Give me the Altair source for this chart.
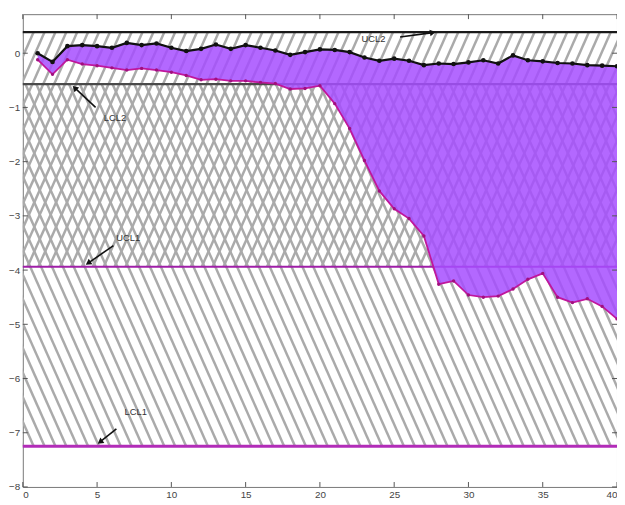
import altair as alt
import pandas as pd
import numpy as np

# ---------------- data ----------------
x_vals = list(range(1, 41))
black_vals = [0.00, -0.16, 0.13, 0.15, 0.13, 0.10, 0.19, 0.15, 0.18, 0.10,
              0.04, 0.08, 0.16, 0.08, 0.15, 0.10, 0.05, -0.03, 0.02, 0.07,
              0.06, 0.02, -0.08, -0.14, -0.10, -0.14, -0.22, -0.19, -0.20, -0.17,
              -0.13, -0.19, -0.04, -0.13, -0.15, -0.18, -0.19, -0.22, -0.23, -0.24]
magenta_vals = [-0.12, -0.39, -0.12, -0.20, -0.23, -0.27, -0.31, -0.28, -0.31, -0.35,
                -0.41, -0.49, -0.48, -0.51, -0.51, -0.54, -0.56, -0.66, -0.65, -0.60,
                -0.93, -1.39, -1.98, -2.54, -2.87, -3.05, -3.37, -4.26, -4.20, -4.46,
                -4.50, -4.48, -4.35, -4.17, -4.06, -4.50, -4.60, -4.53, -4.67, -4.90]

limit_names = ["UCL2", "LCL2", "UCL1", "LCL1"]
limit_values = [0.39, -0.57, -3.94, -7.25]
limit_colors = ["#1a1a1a", "#4a4a4a", "#a020a8", "#b22cb8"]
limit_widths = [2.2, 2.2, 2.0, 3.0]

x_ticks = [0, 5, 10, 15, 20, 25, 30, 35, 40]
y_ticks = [-8, -7, -6, -5, -4, -3, -2, -1, 0]
x_domain = [0, 40]
y_domain = [-8, 0.72]

# annotation labels: text, text position, arrow start, arrow end
ann_text = ["UCL2", "LCL2", "UCL1", "LCL1"]
ann_tx = [23.6, 6.2, 7.1, 7.6]
ann_ty = [0.27, -1.19, -3.40, -6.62]
ann_x1 = [25.4, 4.9, 6.1, 6.3]
ann_y1 = [0.30, -1.00, -3.55, -6.93]
ann_x2 = [27.6, 3.5, 4.4, 5.2]
ann_y2 = [0.38, -0.64, -3.87, -7.17]
ann_angle = [350, 225, 146, 143]

W, H = 602, 479

xs = alt.Scale(domain=x_domain, nice=False, zero=False)
ys = alt.Scale(domain=y_domain, nice=False, zero=False)

# ---------------- hatch pattern (decoration) ----------------
slope = 1.62      # x-units per y-unit of a hatch stroke
step = 0.733      # horizontal spacing of strokes
def hatch(lo, hi, direction):
    span = slope * (hi - lo)
    rows = []
    if direction > 0:
        starts = np.arange(-span - step, x_domain[1] + step, step)
        for c in starts:
            rows.append({"x": c, "y": lo, "x2": c + span, "y2": hi})
    else:
        starts = np.arange(0, x_domain[1] + span + step, step)
        for c in starts:
            rows.append({"x": c, "y": lo, "x2": c - span, "y2": hi})
    return pd.DataFrame(rows)

hatch_lower = hatch(limit_values[3], limit_values[1], -1)   # "\" LCL1..LCL2
hatch_upper = hatch(limit_values[2], limit_values[0], +1)   # "/" UCL1..UCL2
hatch_df = pd.concat([hatch_lower, hatch_upper], ignore_index=True)

axis_kw = dict(grid=False, ticks=False, domain=False, title=None, labelFontSize=10,
               labelColor="#444", labelFont="Liberation Sans", labelPadding=3)

hatch_layer = alt.Chart(hatch_df).mark_rule(
    clip=True, strokeWidth=2.5, color="#aaaaaa"
).encode(
    x=alt.X("x:Q", scale=xs, axis=alt.Axis(values=x_ticks, **axis_kw)),
    y=alt.Y("y:Q", scale=ys, axis=alt.Axis(values=y_ticks, **axis_kw)),
    x2="x2:Q",
    y2="y2:Q",
)

# ---------------- limit lines ----------------
lim_df = pd.DataFrame({"name": limit_names, "v": limit_values,
                       "c": limit_colors, "w": limit_widths})
limit_layer = alt.Chart(lim_df).mark_rule().encode(
    y=alt.Y("v:Q", scale=ys),
    x=alt.value(0), x2=alt.value(W),
    color=alt.Color("c:N", scale=None),
    strokeWidth=alt.StrokeWidth("w:Q", scale=None),
)

# ---------------- series ----------------
series_df = pd.DataFrame({"x": x_vals, "black": black_vals, "magenta": magenta_vals})

area_layer = alt.Chart(series_df).mark_area(color="#a64dff", opacity=0.85).encode(
    x=alt.X("x:Q", scale=xs),
    y=alt.Y("black:Q", scale=ys),
    y2="magenta:Q",
)

black_line = alt.Chart(series_df).mark_line(color="#111111", strokeWidth=2.2).encode(
    x=alt.X("x:Q", scale=xs), y=alt.Y("black:Q", scale=ys))
black_pts = alt.Chart(series_df).mark_point(color="#111111", filled=True, size=22, opacity=1).encode(
    x=alt.X("x:Q", scale=xs), y=alt.Y("black:Q", scale=ys))
mag_line = alt.Chart(series_df).mark_line(color="#c0169c", strokeWidth=1.8).encode(
    x=alt.X("x:Q", scale=xs), y=alt.Y("magenta:Q", scale=ys))
mag_pts = alt.Chart(series_df).mark_point(color="#a0107e", filled=True, size=12, opacity=1).encode(
    x=alt.X("x:Q", scale=xs), y=alt.Y("magenta:Q", scale=ys))

# ---------------- annotations ----------------
ann_df = pd.DataFrame({"t": ann_text, "tx": ann_tx, "ty": ann_ty,
                       "x1": ann_x1, "y1": ann_y1, "x2": ann_x2, "y2": ann_y2,
                       "a": ann_angle})
ann_text_layer = alt.Chart(ann_df).mark_text(
    fontSize=9.5, color="#333", font="Liberation Sans", align="center", baseline="middle"
).encode(x=alt.X("tx:Q", scale=xs), y=alt.Y("ty:Q", scale=ys), text="t:N")
ann_line_layer = alt.Chart(ann_df).mark_rule(color="#111", strokeWidth=1.6).encode(
    x=alt.X("x1:Q", scale=xs), y=alt.Y("y1:Q", scale=ys), x2="x2:Q", y2="y2:Q")
ann_head_layer = alt.Chart(ann_df).mark_point(
    shape="triangle-right", filled=True, color="#111", size=45, opacity=1
).encode(x=alt.X("x2:Q", scale=xs), y=alt.Y("y2:Q", scale=ys),
         angle=alt.Angle("a:Q", scale=None))

# ---------------- inward ticks on all four sides ----------------
xt_df = pd.DataFrame({"v": x_ticks})
yt_df = pd.DataFrame({"v": y_ticks})
tick_kw = dict(color="#555", strokeWidth=1)
ticks_bottom = alt.Chart(xt_df).mark_rule(**tick_kw).encode(
    x=alt.X("v:Q", scale=xs), y=alt.value(H), y2=alt.value(H - 5))
ticks_top = alt.Chart(xt_df).mark_rule(**tick_kw).encode(
    x=alt.X("v:Q", scale=xs), y=alt.value(0), y2=alt.value(5))
ticks_left = alt.Chart(yt_df).mark_rule(**tick_kw).encode(
    y=alt.Y("v:Q", scale=ys), x=alt.value(0), x2=alt.value(5))
ticks_right = alt.Chart(yt_df).mark_rule(**tick_kw).encode(
    y=alt.Y("v:Q", scale=ys), x=alt.value(W), x2=alt.value(W - 5))

chart = alt.layer(
    hatch_layer, limit_layer, area_layer,
    black_line, black_pts, mag_line, mag_pts,
    ann_line_layer, ann_head_layer, ann_text_layer,
    ticks_bottom, ticks_top, ticks_left, ticks_right,
).properties(
    width=W, height=H,
    autosize=alt.AutoSizeParams(type="none"),
    padding={"left": 15, "top": 3, "right": 0, "bottom": 13},
    background="white",
).configure_view(stroke="#777", strokeWidth=1)

chart.save("out.html", embed_options={"renderer": "svg", "actions": False})
